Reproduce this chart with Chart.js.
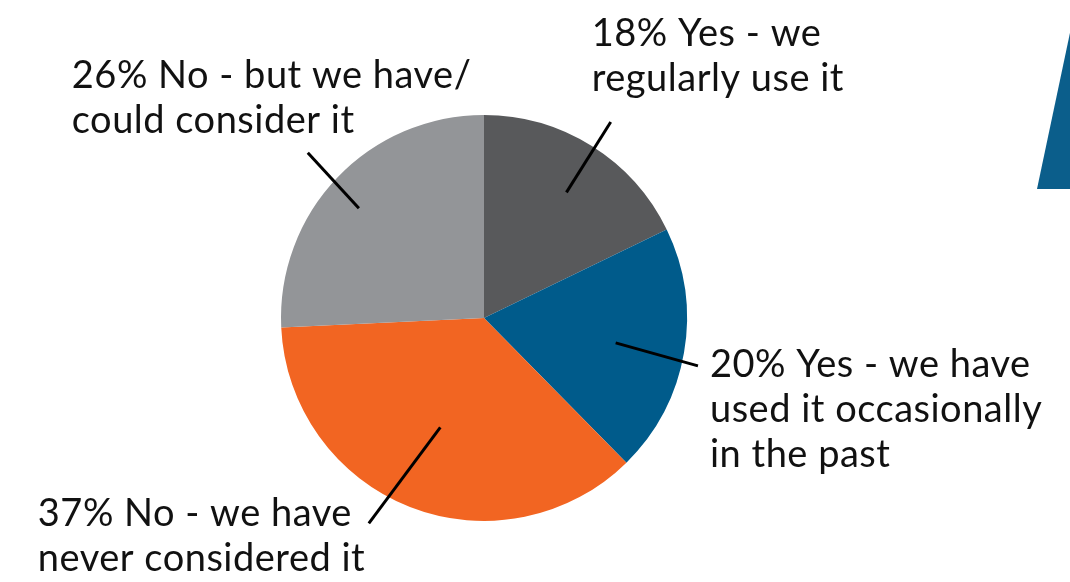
<!DOCTYPE html>
<html>
<head>
<meta charset="utf-8">
<script src="https://cdn.jsdelivr.net/npm/chart.js@4/dist/chart.umd.min.js"></script>
<style>
  html, body { margin: 0; padding: 0; background: #fff; }
  #wrap { width: 1070px; height: 582px; }
</style>
</head>
<body>
<div id="wrap"><canvas id="pie"></canvas></div>
<script>
// survey answers, clockwise from 12 o'clock
const answers = ["Yes - we regularly use it", "Yes - we have used it occasionally in the past",
  "No - we have never considered it", "No - but we have/ could consider it"];
const shares = [18, 20, 37, 26];
const sliceColors = ["#58595b", "#005b8b", "#f26522", "#939598"];

// how each label is broken over lines
const labelLines = [
  ["18% Yes - we", "regularly use it"],
  ["20% Yes - we have", "used it occasionally", "in the past"],
  ["37% No - we have", "never considered it"],
  ["26% No - but we have/", "could consider it"]
];

// leader line: start/end radius (x outer radius), angle shift (deg), text offset from line end
const leaders = [
  { r0: 0.74, r1: 1.15, a0: 1.2, a1: 0.8, tx: -19, ty: -76 },
  { r0: 0.66, r1: 1.08, a0: 0.9, a1: 2.8, tx: 12, ty: 11 },
  { r0: 0.58, r1: 1.16, a0: 0.4, a1: 7.9, tx: -331, ty: 3 },
  { r0: 0.82, r1: 1.19, a0: -2.4, a1: -0.5, tx: -236, ty: -65 }
];

const labelFont = "38px Lato";
const lineGap = 45;

const calloutPlugin = {
  id: "callouts",
  afterDatasetsDraw(chart) {
    const c = chart.ctx;
    const arcs = chart.getDatasetMeta(0).data;
    c.save();
    c.strokeStyle = "#000";
    c.lineWidth = 3;
    c.fillStyle = "#111";
    c.font = labelFont;
    c.letterSpacing = "0.5px";
    c.textAlign = "left";
    c.textBaseline = "alphabetic";
    arcs.forEach(function (arc, i) {
      const p = arc.getProps(["x", "y", "startAngle", "endAngle", "outerRadius"], true);
      const mid = (p.startAngle + p.endAngle) / 2;
      const L = leaders[i];
      const a0 = mid + L.a0 * Math.PI / 180;
      const a1 = mid + L.a1 * Math.PI / 180;
      const x0 = p.x + Math.cos(a0) * p.outerRadius * L.r0;
      const y0 = p.y + Math.sin(a0) * p.outerRadius * L.r0;
      const x1 = p.x + Math.cos(a1) * p.outerRadius * L.r1;
      const y1 = p.y + Math.sin(a1) * p.outerRadius * L.r1;
      c.beginPath();
      c.moveTo(x0, y0);
      c.lineTo(x1, y1);
      c.stroke();
      labelLines[i].forEach(function (txt, k) {
        c.fillText(txt, x1 + L.tx, y1 + L.ty + k * lineGap);
      });
    });
    c.restore();
  }
};

// blue wedge poking in at the top right edge
const cornerPlugin = {
  id: "corner",
  beforeDraw(chart) {
    const c = chart.ctx;
    c.save();
    c.fillStyle = "#0b5e8b";
    c.beginPath();
    c.moveTo(1037, 189);
    c.lineTo(1071, 28);
    c.lineTo(1071, 189);
    c.closePath();
    c.fill();
    c.restore();
  }
};

new Chart(document.getElementById("pie"), {
  type: "pie",
  data: {
    labels: answers,
    datasets: [{
      data: shares,
      backgroundColor: sliceColors,
      borderWidth: 0
    }]
  },
  options: {
    responsive: true,
    maintainAspectRatio: false,
    animation: false,
    layout: { padding: { left: 281, right: 383, top: 115, bottom: 61 } },
    plugins: {
      legend: { display: false },
      tooltip: { enabled: false }
    }
  },
  plugins: [cornerPlugin, calloutPlugin]
});
</script>
</body>
</html>
